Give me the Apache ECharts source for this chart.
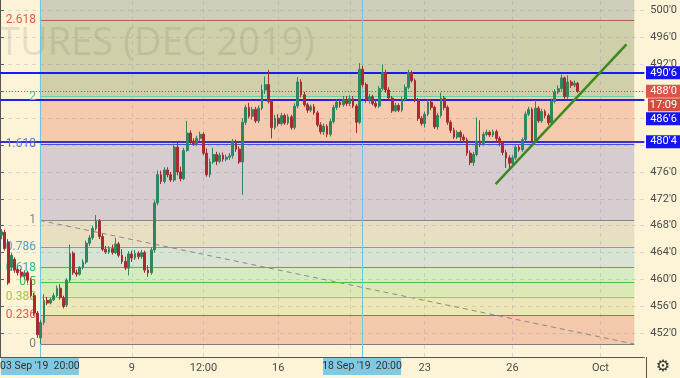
<!DOCTYPE html>
<html><head><meta charset="utf-8">
<script src="https://cdn.jsdelivr.net/npm/echarts@6/dist/echarts.min.js"></script>
<style>html,body{margin:0;padding:0;background:#fdf3d7;}#c{width:680px;height:378px;}</style>
</head><body><div id="c"></div>
<script>
// ---- data ----
const candles = [ // [open, close, low, high]
[466.6,467.1,466.0,467.5],[467.0,464.6,464.3,467.4],[465.5,459.5,459.2,466.0],[461.8,463.6,461.3,464.0],
[463.0,461.4,461.0,463.3],[461.5,461.0,460.6,461.9],[461.1,460.6,460.2,461.6],[460.5,461.0,460.0,461.4],
[461.0,459.9,459.5,461.3],[459.9,457.6,457.3,460.2],[457.6,455.0,454.6,458.0],[455.0,451.8,451.3,455.3],
[451.3,453.6,450.4,454.0],[453.6,456.9,453.2,457.8],[456.9,456.5,456.2,457.4],[456.5,457.0,456.3,457.3],
[457.0,457.6,456.8,458.0],[457.6,458.7,457.4,459.1],[458.7,457.3,457.0,459.3],[457.3,456.0,455.7,457.6],
[456.2,459.9,455.9,460.2],[459.9,463.9,459.6,465.2],[463.9,461.0,460.7,464.2],[461.0,460.8,460.4,461.5],
[460.8,461.8,460.6,462.0],[461.8,462.6,461.5,463.0],[462.6,465.4,462.3,465.8],[465.4,466.2,465.0,466.6],
[466.2,467.6,465.9,468.0],[467.6,468.7,467.3,469.6],[468.7,466.4,466.0,469.0],[466.4,464.5,464.2,466.8],
[464.5,464.1,463.8,465.0],[464.1,464.6,463.8,465.0],[464.6,464.0,463.7,465.2],[464.0,465.3,463.8,466.2],
[465.3,463.6,463.3,465.6],[463.6,462.7,462.3,464.5],[462.7,461.7,461.4,463.4],[461.7,463.8,460.6,464.2],
[463.8,463.2,462.6,464.3],[463.2,463.9,462.9,464.4],[463.9,463.4,463.0,464.2],[463.4,464.0,463.1,464.4],
[464.0,461.4,461.0,464.3],[461.4,461.0,460.4,462.1],[461.0,464.4,460.7,464.8],[464.4,471.4,464.0,471.8],
[471.4,475.6,471.0,476.2],[475.6,474.6,474.2,476.2],[474.6,476.3,474.3,476.7],[476.3,475.6,475.2,476.7],
[475.6,474.8,474.5,476.0],[474.8,479.7,474.5,480.2],[479.7,476.0,475.5,480.3],[476.0,475.0,474.6,476.8],
[475.0,479.2,474.8,479.6],[479.2,481.8,479.0,483.6],[481.8,480.6,480.2,482.2],[480.6,480.2,479.9,481.0],
[480.2,481.0,479.9,481.4],[481.0,481.6,480.6,482.0],[481.6,478.8,478.5,481.9],[478.8,475.6,475.3,479.5],
[475.6,477.5,475.2,478.0],[477.5,478.6,477.2,479.6],[478.6,477.6,477.0,479.0],[477.6,478.5,477.3,478.9],
[478.5,477.9,477.5,478.9],[477.9,478.2,477.6,478.6],[478.2,478.4,477.8,478.8],[478.4,480.5,478.0,480.9],
[480.5,479.4,479.0,480.8],[479.4,477.5,477.2,479.8],[477.5,483.4,472.6,484.0],[483.4,485.6,483.0,486.0],
[485.6,484.3,484.0,486.3],[484.3,485.3,483.8,485.7],[485.3,483.6,483.3,485.7],[483.6,485.5,483.3,485.9],
[485.5,488.2,485.2,489.0],[488.2,489.0,487.6,490.2],[489.0,486.5,486.2,491.2],[486.5,482.6,481.0,486.8],
[482.6,484.0,482.3,484.5],[484.0,483.2,482.8,484.6],[483.2,484.4,482.9,484.8],[484.4,483.3,483.0,484.7],
[483.3,484.2,483.0,484.6],[484.2,482.6,482.3,484.5],[482.6,485.8,482.3,486.2],[485.8,489.4,485.5,490.1],
[489.4,487.5,487.1,489.8],[487.5,486.0,485.7,487.9],[486.0,485.2,484.8,486.3],[485.2,485.7,484.9,486.0],
[485.7,484.8,484.5,486.1],[484.8,483.0,482.7,485.1],[483.0,482.0,481.6,483.4],[482.0,482.8,481.5,483.2],
[482.8,481.6,481.2,483.1],[481.6,483.5,481.3,483.9],[483.5,485.6,483.2,486.0],[485.6,486.4,485.2,486.8],
[486.4,486.0,485.6,486.9],[486.0,486.8,485.7,487.3],[486.8,486.2,485.8,487.3],[486.2,486.9,485.8,487.4],
[486.9,485.8,485.5,487.3],[485.8,483.4,481.8,486.1],[483.4,491.3,483.1,492.2],[491.3,489.0,488.6,491.8],
[489.0,486.7,486.3,489.3],[486.7,487.2,486.2,487.6],[487.2,486.2,485.9,487.5],[486.2,485.8,485.5,486.8],
[485.8,488.4,485.5,488.8],[488.4,490.8,488.1,492.0],[490.8,488.2,487.8,491.2],[488.2,487.0,486.7,488.6],
[487.0,485.1,484.8,487.3],[485.1,485.9,484.9,486.3],[485.9,485.2,484.9,486.2],[485.2,486.8,484.9,487.2],
[486.8,488.6,486.5,489.0],[488.6,490.8,488.3,491.2],[490.8,489.6,489.3,491.1],[489.6,486.7,486.4,489.9],
[486.7,484.0,483.6,487.0],[484.0,483.2,482.9,484.3],[483.2,484.6,482.6,485.0],[484.6,486.4,484.3,486.8],
[486.4,485.6,485.2,486.8],[485.6,482.7,482.4,485.9],[482.7,484.4,482.3,484.8],[484.4,487.0,484.1,487.8],
[487.0,485.6,485.2,487.3],[485.6,483.4,483.0,485.9],[483.4,482.2,481.8,483.7],[482.2,481.2,480.9,482.6],
[481.2,481.9,480.9,482.2],[481.9,481.2,480.6,482.2],[481.2,480.8,480.4,481.6],[480.8,478.8,478.4,481.1],
[478.8,477.4,477.0,479.2],[477.4,478.6,476.9,479.0],[478.6,480.6,478.3,484.1],[480.6,480.2,479.7,483.7],
[480.2,481.6,479.9,482.0],[481.6,481.9,481.3,482.3],[481.9,481.5,481.2,482.2],[481.5,482.0,481.2,482.3],
[482.0,481.0,480.6,482.3],[481.0,480.3,479.8,481.3],[480.3,478.9,478.5,480.6],[478.9,478.1,476.6,479.3],
[478.1,477.3,476.3,478.5],[477.3,478.1,477.0,478.5],[478.1,479.7,477.8,480.0],[479.7,479.3,479.0,480.1],
[479.3,480.8,479.0,481.1],[480.8,484.6,480.5,485.0],[484.6,485.3,484.3,485.7],[485.3,480.6,480.3,485.6],
[480.6,485.5,480.3,486.7],[485.5,483.6,483.3,485.8],[483.6,485.0,483.3,485.4],[485.0,484.4,484.0,485.3],
[484.4,483.3,483.0,484.7],[483.3,486.5,483.0,486.9],[486.5,487.9,486.2,488.3],[487.9,488.4,487.6,488.9],
[488.4,490.0,488.1,490.5],[490.0,487.2,486.9,490.2],[487.2,489.4,486.9,490.4],[489.4,488.9,488.5,489.7],
[488.9,489.2,488.6,489.6],[489.2,488.0,487.8,489.4]
];
const slotCount = 198;                 // bars + empty future slots
const yMin = 448.47, yMax = 501.59;
const yTicks = [452,456,460,464,468,472,476,480,484,488,492,496,500];
const xTickIdx = [40,62,85,107,130,157,184];
const xTickLabels = ['9','12:00','16','','23','26','Oct'];
const fibLow = 450.4, fibHigh = 468.8;
const fibStart = 12.26, fibEnd = 194.9;
const fibLevels = [0,0.236,0.382,0.5,0.618,0.786,1,1.618,2,2.618];
const fibLineColors = ['#7d7f88','#e0533f','#a3c93a','#43c443','#2fb5a2','#5ea8cc','#858590','#4356c8','#5fd4a4','#b85d50'];
const fibLabelColors = ['#7d7f88','#e35a4a','#a3c93a','#3fbf3f','#2fb5a2','#4a9fd8','#858590','#5b78e0','#3cc4a0','#e35a4a'];
const fibFillColors = ['#f4c8aa','#ece7b4','#dde9b3','#d5ebc0','#d7e4d3','#e8dec1','#d7cdd0','#f5caae','#cfcfa9','#cdcdb9'];
const hLines = [490.75, 486.75, 480.5];
const hLineLabels = ["490'6", "486'6", "480'4"];
const lastPrice = 488.0;
const countdown = '17:09';
const trendLine = [[152.3,474.2],[192.5,495.0]];
const fibDiag = [[fibStart,fibHigh],[fibEnd,fibLow]];
const markerPos = [12.26, 111.25];
const markerLabels = ["03 Sep '19  20:00", "18 Sep '19  20:00"];
const watermark = 'TURES (DEC 2019)';

// ---- build ----
const categories = Array.from({length: slotCount}, (_, i) => String(i));
const fmtPrice = v => Math.floor(v) + "'" + Math.round((v - Math.floor(v)) * 8);
const fibPrice = l => fibLow + l * (fibHigh - fibLow);

const fibAreas = fibLevels.map((l, i) => {
  const top = i + 1 < fibLevels.length ? fibPrice(fibLevels[i + 1]) : yMax;
  return [{xAxis: fibStart, yAxis: fibPrice(l), itemStyle: {color: fibFillColors[i], opacity: 1}},
          {xAxis: fibEnd, yAxis: top}];
});
const fibLines = fibLevels.map((l, i) => [
  {coord: [fibStart, fibPrice(l)], lineStyle: {color: fibLineColors[i], width: 1, type: 'solid'},
   label: {show: true, position: 'start', formatter: String(l), color: fibLabelColors[i], fontSize: 12, distance: 4, fontFamily: 'Roboto'}},
  {coord: [fibEnd, fibPrice(l)]}
]);
const gridLines = yTicks.map(t => ({yAxis: t})).concat(xTickIdx.map(i => ({xAxis: i + 0.5})));

const chart = echarts.init(document.getElementById('c'));
chart.setOption({
  animation: false,
  backgroundColor: '#fdf3d7',
  grid: {left: 0, right: 34, top: 0, bottom: 21},
  xAxis: [{
    type: 'category', data: categories, boundaryGap: true,
    axisLine: {lineStyle: {color: '#555'}},
    axisTick: {interval: (i) => xTickIdx.includes(i), alignWithLabel: true, length: 3, lineStyle: {color: '#555'}},
    axisLabel: {interval: (i) => xTickIdx.includes(i), formatter: (v) => xTickLabels[xTickIdx.indexOf(Number(v))] || '',
      color: '#4a4a4a', fontSize: 11, margin: 6, fontFamily: 'Roboto'},
    splitLine: {show: false}
  }, {type: 'value', min: 0, max: slotCount, show: false}],
  yAxis: {
    type: 'value', position: 'right', min: yMin, max: yMax,
    axisLine: {show: true, lineStyle: {color: '#555'}},
    axisTick: {show: true, length: 4, customValues: yTicks, lineStyle: {color: '#555'}},
    axisLabel: {customValues: yTicks, formatter: fmtPrice, color: '#4a4a4a', fontSize: 11, margin: 6, fontFamily: 'Roboto'},
    splitLine: {show: false}
  },
  series: [
    { // fib fills + levels + diagonal
      type: 'line', xAxisIndex: 1, z: 1, data: fibDiag, symbol: 'none', silent: true,
      lineStyle: {color: '#8a8a8a', width: 1, type: [5, 4]},
      markArea: {silent: true, data: fibAreas},
      markLine: {silent: true, symbol: ['none', 'none'], data: fibLines}
    },
    { // grid lines
      type: 'line', xAxisIndex: 1, z: 2, data: [], silent: true,
      markLine: {silent: true, symbol: ['none', 'none'], label: {show: false},
        lineStyle: {color: 'rgba(110,120,190,0.22)', width: 1, type: [4, 4]}, data: gridLines}
    },
    { // crosshair markers
      type: 'line', xAxisIndex: 1, z: 4, data: [], silent: true,
      markLine: {silent: true, symbol: ['none', 'none'], label: {show: false},
        lineStyle: {color: '#6cc6e6', width: 1, type: 'solid'}, data: markerPos.map(p => ({xAxis: p}))}
    },
    {
      type: 'candlestick', xAxisIndex: 0, z: 5, data: candles, barWidth: 2.3,
      itemStyle: {color: '#2f8762', color0: '#a62c30', borderColor: '#2f8762', borderColor0: '#a62c30', borderWidth: 1}
    },
    { // horizontal levels
      type: 'line', xAxisIndex: 1, z: 6, data: [], silent: true,
      markLine: {silent: true, symbol: ['none', 'none'], label: {show: false},
        data: [
          {yAxis: hLines[0], lineStyle: {color: '#1a1aff', width: 2, type: 'solid'}},
          {yAxis: hLines[1], lineStyle: {color: '#2222e0', width: 2, type: 'solid'}},
          {yAxis: hLines[2], lineStyle: {color: '#3b2cd8', width: 2, type: 'solid'}},
          {yAxis: lastPrice, lineStyle: {color: '#e04848', width: 1, type: [1, 2]}}
        ]}
    },
    { // trend line
      type: 'line', xAxisIndex: 1, z: 7, data: trendLine, symbol: 'none', silent: true,
      lineStyle: {color: '#3a8a1f', width: 2.5}
    }
  ]
});

// ---- overlay labels ----
const py = v => chart.convertToPixel({yAxisIndex: 0}, v);
const px = v => chart.convertToPixel({xAxisIndex: 1}, v);
const axisX = 646;
function box(y, text, bg, x0) {
  x0 = x0 || axisX;
  return [
    {type: 'rect', z: 20, shape: {x: x0, y: y - 6.5, width: 680 - x0, height: 13}, style: {fill: bg}},
    {type: 'text', z: 21, style: {x: 663.5, y: y, text: text, fill: '#fff', font: '11px Roboto', textAlign: 'center', textVerticalAlign: 'middle'}}
  ];
}
const yLast = py(lastPrice);
const g = [];
g.push({type: 'text', z: 3, style: {x: -1, y: 44, text: watermark, fill: 'rgba(120,120,120,0.18)', font: '38px "Open Sans"', textVerticalAlign: 'middle'}});
g.push(...box(py(hLines[0]), hLineLabels[0], '#1414f5'));
g.push(...box(yLast, fmtPrice(lastPrice), '#e0534a'));
g.push(...box(yLast + 13.5, countdown, '#d34a3f', 648));
g.push(...box(yLast + 27.5, hLineLabels[1], '#1414f5'));
g.push(...box(py(hLines[2]), hLineLabels[2], '#1414f5'));
markerPos.forEach((p, i) => {
  const x = Math.max(px(p), 39);
  g.push({type: 'rect', z: 20, shape: {x: x - 39, y: 358, width: 78, height: 17}, style: {fill: '#7fc9e2'}});
  g.push({type: 'text', z: 21, style: {x: x, y: 366.5, text: markerLabels[i], fill: '#333', font: '10.5px Roboto', textAlign: 'center', textVerticalAlign: 'middle'}});
});
g.push({type: 'line', z: 20, shape: {x1: axisX + 0.5, y1: 357, x2: axisX + 0.5, y2: 378}, style: {stroke: '#555', lineWidth: 1}});
g.push({type: 'text', z: 21, style: {x: 663, y: 367, text: '\u2699', fill: '#333', font: '16px "DejaVu Sans"', textAlign: 'center', textVerticalAlign: 'middle'}});
chart.setOption({graphic: g});
</script>
</body></html>
